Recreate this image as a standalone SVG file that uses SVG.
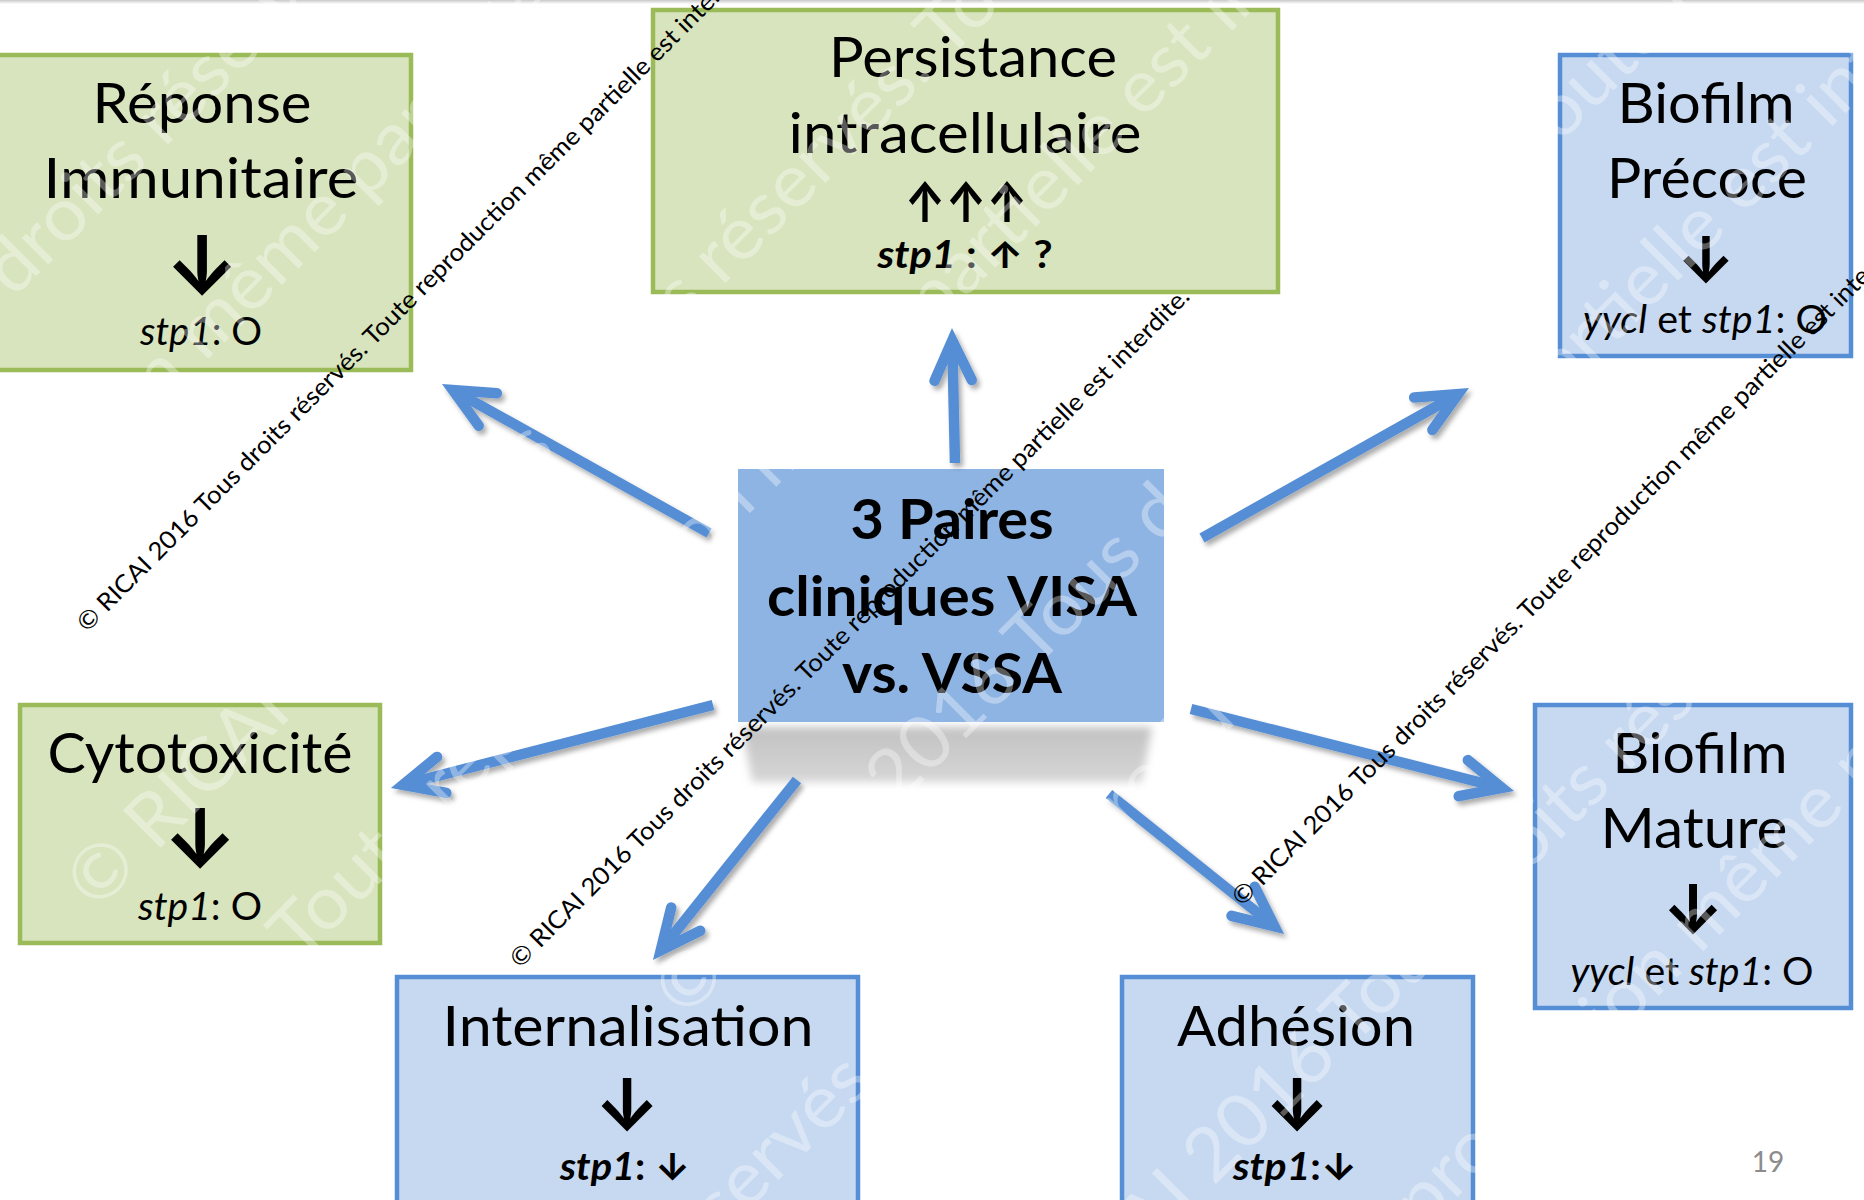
<svg xmlns="http://www.w3.org/2000/svg" width="1864" height="1200" viewBox="0 0 1864 1200">
  <defs>
    <style>
      .t { font-family: Lato, "Noto Sans", "Liberation Sans", sans-serif; fill: #000; }
      .h { font-size: 56px; }
      .s { font-size: 38px; }
      .b { font-weight: 700; }
      .i { font-style: italic; }
      .ar { font-family: Inter, "DejaVu Sans", sans-serif; font-weight: 700; fill: #000; }
      .green { fill: #D7E4BD; stroke: #9BBB59; stroke-width: 4.5; }
      .blue { fill: #C6D9F1; stroke: #558ED5; stroke-width: 4.5; }
      .conn { fill: none; stroke: #558ED5; stroke-width: 10.5; stroke-linecap: butt; }
      .wm { font-family: Lato, "Noto Sans", sans-serif; font-size: 74px; fill: #fff; fill-opacity: 0.35; }
      .copy { font-family: Lato, "Noto Sans", sans-serif; font-size: 24.5px; fill: #000; }
    </style>
    <marker id="head" markerUnits="userSpaceOnUse" markerWidth="100" markerHeight="100" refX="-2" refY="0" orient="auto" overflow="visible">
      <path d="M-40,-18.6 L0,0 L-40,18.6" fill="none" stroke="#558ED5" stroke-width="10.5" stroke-linecap="round" stroke-linejoin="miter" stroke-miterlimit="10"/>
    </marker>
    <filter id="dropShadow" filterUnits="userSpaceOnUse" x="0" y="0" width="1864" height="1200">
      <feDropShadow dx="3" dy="4" stdDeviation="2.5" flood-color="#000" flood-opacity="0.33"/>
    </filter>
    <filter id="soft" x="-10%" y="-30%" width="120%" height="160%">
      <feGaussianBlur stdDeviation="4"/>
    </filter>
    <linearGradient id="shadowFade" x1="0" y1="0" x2="0" y2="1">
      <stop offset="0" stop-color="#c2c2c2"/>
      <stop offset="1" stop-color="#d6d6d6"/>
    </linearGradient>
    <linearGradient id="topFade" x1="0" y1="0" x2="0" y2="1">
      <stop offset="0" stop-color="#c8c8c8"/>
      <stop offset="1" stop-color="#ffffff"/>
    </linearGradient>
  </defs>

  <rect x="0" y="0" width="1864" height="1200" fill="#fff"/>
  <rect x="0" y="0" width="1864" height="4" fill="url(#topFade)"/>

  <!-- Center hub with its floor shadow -->
  <g id="center">
    <polygon points="742,727 1152,727 1142,782 752,782" fill="url(#shadowFade)" filter="url(#soft)"/>
    <rect x="738" y="469" width="426" height="253" fill="#8EB4E3"/>
    <text class="t h b" x="952" y="539" text-anchor="middle" textLength="203" lengthAdjust="spacingAndGlyphs">3 Paires</text>
    <text class="t h b" x="952" y="616" text-anchor="middle" textLength="370" lengthAdjust="spacingAndGlyphs">cliniques VISA</text>
    <text class="t h b" x="952" y="693" text-anchor="middle" textLength="220" lengthAdjust="spacingAndGlyphs">vs. VSSA</text>
  </g>

  <!-- Radiating connectors -->
  <g id="connectors" filter="url(#dropShadow)">
    <path class="conn" d="M709,533 L454.6,391.0" marker-end="url(#head)"/>
    <path class="conn" d="M955,463 L952.3,342.4" marker-end="url(#head)"/>
    <path class="conn" d="M1202,538 L1456.4,395.1" marker-end="url(#head)"/>
    <path class="conn" d="M713,705 L404.9,784.4" marker-end="url(#head)"/>
    <path class="conn" d="M797,780 L662.0,948.8" marker-end="url(#head)"/>
    <path class="conn" d="M1109,794 L1272.8,925.0" marker-end="url(#head)"/>
    <path class="conn" d="M1191,709 L1500.1,787.5" marker-end="url(#head)"/>
  </g>

  <g id="reponse">
    <rect class="green" x="-10" y="55" width="421" height="315"/>
    <text class="t h" x="202" y="123" text-anchor="middle" textLength="219" lengthAdjust="spacingAndGlyphs">Réponse</text>
    <text class="t h" x="201" y="198" text-anchor="middle" textLength="315" lengthAdjust="spacingAndGlyphs">Immunitaire</text>
    <text class="ar" x="202" y="295" text-anchor="middle" font-size="82">↓</text>
    <text class="t s" x="201" y="345" text-anchor="middle" textLength="122" lengthAdjust="spacingAndGlyphs"><tspan class="i">stp1</tspan>: O</text>
  </g>

  <g id="persistance">
    <rect class="green" x="653" y="10" width="625" height="282"/>
    <text class="t h" x="973" y="77" text-anchor="middle" textLength="288" lengthAdjust="spacingAndGlyphs">Persistance</text>
    <text class="t h" x="965" y="153" text-anchor="middle" textLength="353" lengthAdjust="spacingAndGlyphs">intracellulaire</text>
    <text class="ar" x="966" y="222" text-anchor="middle" font-size="55" textLength="123" lengthAdjust="spacingAndGlyphs">↑↑↑</text>
    <text class="t s b" x="965" y="268" text-anchor="middle" textLength="175" lengthAdjust="spacingAndGlyphs"><tspan class="i">stp1</tspan> : <tspan class="ar" font-size="37">↑</tspan> ?</text>
  </g>

  <g id="biofilm-precoce">
    <rect class="blue" x="1560" y="55" width="291" height="301"/>
    <text class="t h" x="1706" y="123" text-anchor="middle" textLength="177" lengthAdjust="spacingAndGlyphs">Biofilm</text>
    <text class="t h" x="1707" y="198" text-anchor="middle" textLength="200" lengthAdjust="spacingAndGlyphs">Précoce</text>
    <text class="ar" x="1706" y="283" text-anchor="middle" font-size="64" font-weight="500">↓</text>
    <text class="t s" x="1705" y="333" text-anchor="middle" textLength="244" lengthAdjust="spacingAndGlyphs"><tspan class="i">yycl</tspan> et <tspan class="i">stp1</tspan>: O</text>
  </g>

  <g id="cytotoxicite">
    <rect class="green" x="20" y="705" width="360" height="238"/>
    <text class="t h" x="200" y="773" text-anchor="middle" textLength="305" lengthAdjust="spacingAndGlyphs">Cytotoxicité</text>
    <text class="ar" x="200" y="868" text-anchor="middle" font-size="82">↓</text>
    <text class="t s" x="200" y="920" text-anchor="middle" textLength="124" lengthAdjust="spacingAndGlyphs"><tspan class="i">stp1</tspan>: O</text>
  </g>

  <g id="internalisation">
    <rect class="blue" x="397" y="977" width="461" height="240"/>
    <text class="t h" x="628" y="1046" text-anchor="middle" textLength="371" lengthAdjust="spacingAndGlyphs">Internalisation</text>
    <text class="ar" x="627" y="1130" text-anchor="middle" font-size="72">↓</text>
    <text class="t s b" x="625" y="1180" text-anchor="middle" textLength="130" lengthAdjust="spacingAndGlyphs"><tspan class="i">stp1</tspan>: <tspan class="ar" font-size="37">↓</tspan></text>
  </g>

  <g id="adhesion">
    <rect class="blue" x="1122" y="977" width="351" height="240"/>
    <text class="t h" x="1296" y="1046" text-anchor="middle" textLength="238" lengthAdjust="spacingAndGlyphs">Adhésion</text>
    <text class="ar" x="1297" y="1130" text-anchor="middle" font-size="72">↓</text>
    <text class="t s b" x="1295" y="1180" text-anchor="middle" textLength="124" lengthAdjust="spacingAndGlyphs"><tspan class="i">stp1</tspan>:<tspan class="ar" font-size="37">↓</tspan></text>
  </g>

  <g id="biofilm-mature">
    <rect class="blue" x="1535" y="705" width="316" height="303"/>
    <text class="t h" x="1700" y="773" text-anchor="middle" textLength="175" lengthAdjust="spacingAndGlyphs">Biofilm</text>
    <text class="t h" x="1694" y="848" text-anchor="middle" textLength="187" lengthAdjust="spacingAndGlyphs">Mature</text>
    <text class="ar" x="1693" y="933" text-anchor="middle" font-size="68" font-weight="500">↓</text>
    <text class="t s" x="1692" y="985" text-anchor="middle" textLength="243" lengthAdjust="spacingAndGlyphs"><tspan class="i">yycl</tspan> et <tspan class="i">stp1</tspan>: O</text>
  </g>

  <text id="page-number" x="1768" y="1172" text-anchor="middle" font-family="Lato, 'Noto Sans', sans-serif" font-size="28" fill="#8c8c8c">19</text>

  <!-- Faint white copyright pattern -->
  <g id="watermark" transform="rotate(-45)">
    <text class="wm" x="-873" y="221" textLength="2820" lengthAdjust="spacingAndGlyphs">© RICAI 2016 Tous droits réservés. Toute reproduction même partielle est interdite.</text>
    <text class="wm" x="-1983" y="401" textLength="2820" lengthAdjust="spacingAndGlyphs">© RICAI 2016 Tous droits réservés. Toute reproduction même partielle est interdite.</text>
    <text class="wm" x="-577" y="713" textLength="2820" lengthAdjust="spacingAndGlyphs">© RICAI 2016 Tous droits réservés. Toute reproduction même partielle est interdite.</text>
    <text class="wm" x="-1672" y="893" textLength="2820" lengthAdjust="spacingAndGlyphs">© RICAI 2016 Tous droits réservés. Toute reproduction même partielle est interdite.</text>
    <text class="wm" x="-237" y="1205" textLength="2820" lengthAdjust="spacingAndGlyphs">© RICAI 2016 Tous droits réservés. Toute reproduction même partielle est interdite.</text>
    <text class="wm" x="-1315" y="1385" textLength="2820" lengthAdjust="spacingAndGlyphs">© RICAI 2016 Tous droits réservés. Toute reproduction même partielle est interdite.</text>
    <text class="wm" x="-280" y="1697" textLength="2820" lengthAdjust="spacingAndGlyphs">© RICAI 2016 Tous droits réservés. Toute reproduction même partielle est interdite.</text>
    <text class="wm" x="-1345" y="1877" textLength="2820" lengthAdjust="spacingAndGlyphs">© RICAI 2016 Tous droits réservés. Toute reproduction même partielle est interdite.</text>
  </g>

  <!-- Diagonal copyright lines -->
  <g id="copyright">
    <text class="copy" transform="translate(87,633) rotate(-45)" textLength="949" lengthAdjust="spacingAndGlyphs">© RICAI 2016 Tous droits réservés. Toute reproduction même partielle est interdite.</text>
    <text class="copy" transform="translate(520,969) rotate(-45)" textLength="949" lengthAdjust="spacingAndGlyphs">© RICAI 2016 Tous droits réservés. Toute reproduction même partielle est interdite.</text>
    <text class="copy" transform="translate(1242,907) rotate(-45)" textLength="949" lengthAdjust="spacingAndGlyphs">© RICAI 2016 Tous droits réservés. Toute reproduction même partielle est interdite.</text>
  </g>
</svg>
